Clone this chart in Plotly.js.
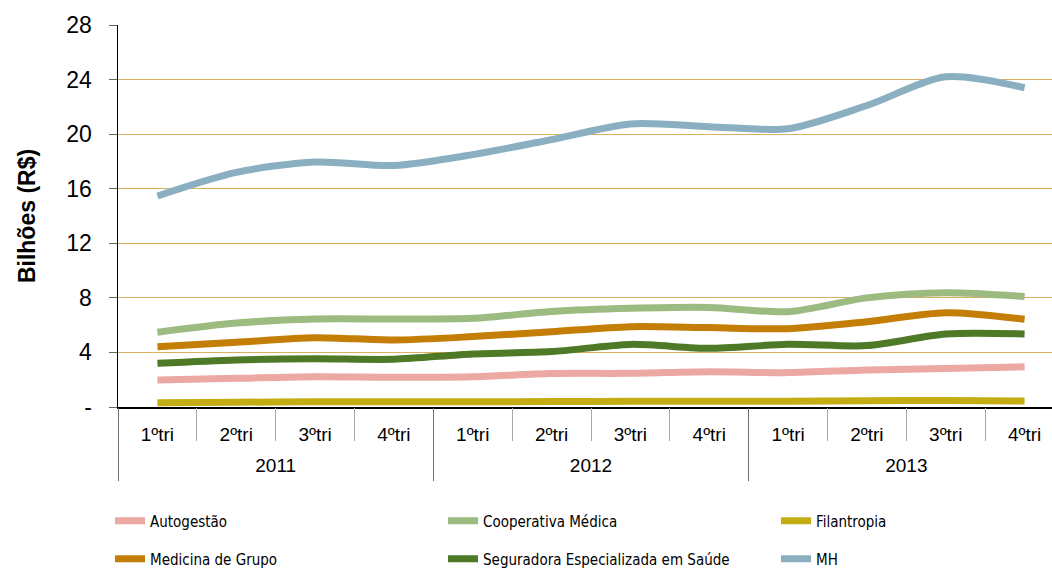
<!DOCTYPE html>
<html>
<head>
<meta charset="utf-8">
<script src="https://cdn.plot.ly/plotly-3.0.1.min.js"></script>
<style>
html,body{margin:0;padding:0;overflow:hidden;background:#fff;}
#chart{width:1075px;height:568px;}
</style>
</head>
<body>
<div id="chart"></div>
<script>
const years = ["2011","2011","2011","2011","2012","2012","2012","2012","2013","2013","2013","2013"];
const quarters = ["1ºtri","2ºtri","3ºtri","4ºtri","1ºtri","2ºtri","3ºtri","4ºtri","1ºtri","2ºtri","3ºtri","4ºtri"];

const autogestao   = [1.98, 2.10, 2.22, 2.18, 2.22, 2.45, 2.47, 2.59, 2.52, 2.71, 2.83, 2.95];
const cooperativa  = [5.48, 6.15, 6.45, 6.45, 6.50, 7.00, 7.23, 7.30, 6.99, 8.00, 8.38, 8.10];
const filantropia  = [0.32, 0.35, 0.38, 0.38, 0.38, 0.40, 0.42, 0.42, 0.42, 0.45, 0.48, 0.44];
const medicina     = [4.42, 4.74, 5.08, 4.91, 5.16, 5.52, 5.89, 5.82, 5.74, 6.25, 6.91, 6.43];
const seguradora   = [3.20, 3.45, 3.54, 3.50, 3.89, 4.06, 4.59, 4.30, 4.60, 4.50, 5.35, 5.35];
const mh           = [15.47, 17.20, 17.96, 17.70, 18.50, 19.60, 20.75, 20.55, 20.40, 22.10, 24.20, 23.40];

const yTickVals = [0,4,8,12,16,20,24,28];
const yTickText = ["-","4","8","12","16","20","24","28"];

// category keys (unique) built from years + quarters
const cats = years.map((y,i) => y + " " + quarters[i]);
const n = cats.length;
const xr = [-0.5, n - 0.5];

// quarter boundaries and year groups (derived from the arrays)
const qBounds = [];
for (let i = 0; i <= n; i++) qBounds.push(i - 0.5);
const uniqYears = [...new Set(years)];
const yearCenters = uniqYears.map(yr => {
  const idx = years.map((v,i)=>v===yr?i:-1).filter(i=>i>=0);
  return (idx[0] + idx[idx.length-1]) / 2;
});
const yearBounds = uniqYears.map(yr => years.indexOf(yr) - 0.5).concat([n - 0.5]);

const series = [
  {name:"Autogestão", y:autogestao, color:"#eca8a2"},
  {name:"Cooperativa Médica", y:cooperativa, color:"#9bbb80"},
  {name:"Filantropia", y:filantropia, color:"#c4ad12"},
  {name:"Medicina de Grupo", y:medicina, color:"#c47d05"},
  {name:"Seguradora Especializada em Saúde", y:seguradora, color:"#4e7a28"},
  {name:"MH", y:mh, color:"#8aafc1"}
];

const legendIds = ["legend","legend2","legend3","legend4","legend5","legend6"];

const traces = series.map((s,i) => ({
  type:"scatter", mode:"lines",
  x:cats, y:s.y, name:s.name, legend:legendIds[i],
  line:{color:s.color, width:7, shape:"spline", smoothing:0.8},
  hoverinfo:"skip"
}));
// empty helper traces so the overlay axes are created
["x2","x3","x4"].forEach(ax => traces.push({type:"scatter", x:[], y:[], xaxis:ax, yaxis:"y", showlegend:false, hoverinfo:"skip"}));

const legendFont = {family:"DejaVu Sans Condensed, Liberation Sans, sans-serif", size:15, color:"#000"};
// legend placement: 3 columns x 2 rows
const plotL = 118, plotW = 946, plotT = 25, plotH = 382;
const colPx = [110, 443, 776];
const rowPx = [521, 559];

const layout = {
  width:1075, height:568,
  margin:{l:118, r:11, t:25, b:161, autoexpand:false},
  paper_bgcolor:"#fff", plot_bgcolor:"#fff",
  font:{family:"Liberation Sans, Arial, sans-serif", color:"#000"},
  showlegend:true,
  xaxis:{
    type:"category", range:xr,
    tickvals:cats, ticktext:quarters,
    showline:true, linecolor:"#000", linewidth:1.5,
    ticks:"", ticklabelstandoff:10,
    tickfont:{size:19, family:"Liberation Sans, Arial, sans-serif", color:"#000"},
    showgrid:false, zeroline:false, fixedrange:true
  },
  xaxis2:{
    overlaying:"x", anchor:"y", side:"bottom", range:xr,
    tickvals:yearCenters, ticktext:uniqYears,
    ticks:"", showline:false, showgrid:false, zeroline:false,
    ticklabelstandoff:45,
    tickfont:{size:19, family:"Liberation Sans, Arial, sans-serif", color:"#000"},
    fixedrange:true
  },
  xaxis3:{
    overlaying:"x", anchor:"y", side:"bottom", range:xr,
    tickvals:qBounds, showticklabels:false,
    ticks:"outside", ticklen:33, tickcolor:"#a6a6a6", tickwidth:1,
    showline:false, showgrid:false, zeroline:false, fixedrange:true
  },
  xaxis4:{
    overlaying:"x", anchor:"y", side:"bottom", range:xr,
    tickvals:yearBounds, showticklabels:false,
    ticks:"outside", ticklen:73, tickcolor:"#6e6e6e", tickwidth:1,
    showline:false, showgrid:false, zeroline:false, fixedrange:true
  },
  yaxis:{
    range:[0,28], tickvals:yTickVals, ticktext:yTickText,
    showline:true, linecolor:"#000", linewidth:1.5,
    ticks:"outside", ticklen:8, tickcolor:"#666",
    showgrid:true, gridcolor:"#dcae5f", gridwidth:1,
    zeroline:false, ticklabelstandoff:12,
    tickfont:{size:23, family:"Liberation Sans, Arial, sans-serif", color:"#000"},
    title:{text:"Bilhões (R$)", font:{size:23, family:"Liberation Sans, Arial, sans-serif", color:"#000", weight:"bold"}, standoff:24},
    fixedrange:true
  }
};

legendIds.forEach((id, i) => {
  const col = i % 3, row = Math.floor(i / 3);
  layout[id] = {
    orientation:"h",
    x:(colPx[col] - plotL) / plotW, xanchor:"left",
    y:(plotT + plotH - rowPx[row]) / plotH, yanchor:"middle",
    font:legendFont, itemwidth:30, bgcolor:"rgba(0,0,0,0)", borderwidth:0
  };
});

Plotly.newPlot("chart", traces, layout, {displayModeBar:false, staticPlot:true});
</script>
</body>
</html>
